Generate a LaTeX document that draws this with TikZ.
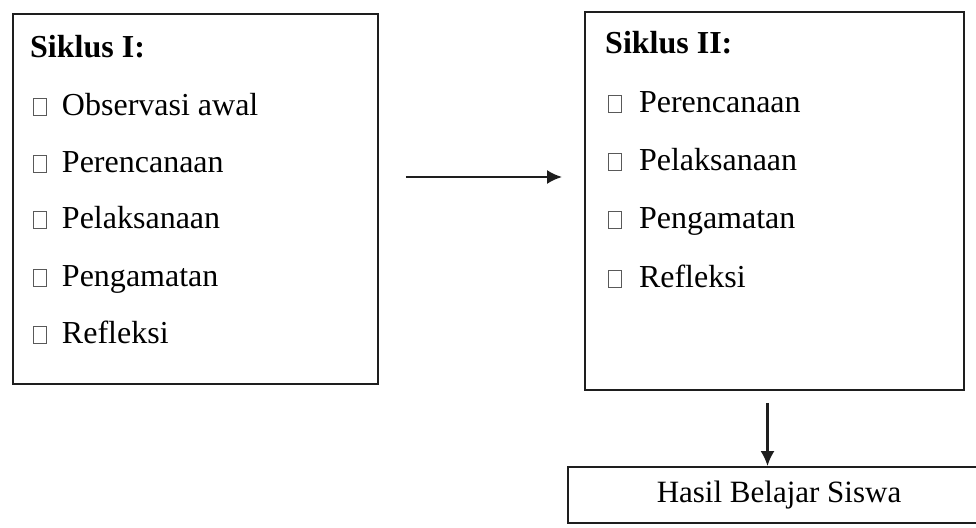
\documentclass[tikz,border=0pt]{standalone}
\usepackage{fontspec}
\setmainfont{Liberation Serif}
\usetikzlibrary{positioning, arrows.meta, calc}
\definecolor{inkgray}{HTML}{1E1E1E}
\newcommand{\kotak}{{\color{black!65}\fboxsep=0pt\fboxrule=0.9pt\fbox{\rule{0pt}{16pt}\hspace{12pt}}}}
\tikzset{
	siklusbox/.style={
			draw=inkgray,
			line width=1.9pt,
			rectangle,
			inner sep=0pt
		},
	itemtext/.style={
			anchor=base west,
			inner sep=0pt,
			font=\fontsize{32}{38}\selectfont
		},
	titletext/.style={
			itemtext,
			font=\fontsize{32}{38}\selectfont\bfseries
		},
	arr/.style={
			line width=2.2pt,
			inkgray,
			-{Latex[length=15pt,width=14pt]}
		}
}
\begin{document}
\begin{tikzpicture}[x=1pt, y=-1pt]
\useasboundingbox (0,0) rectangle (976,527);
\node[siklusbox, minimum width=365pt, minimum height=370pt] (lbox) at (195.5,199) {};
\node[siklusbox, minimum width=379pt, minimum height=378pt] (rbox) at (774.5,201) {};
\node[siklusbox, minimum width=422pt, minimum height=56pt,
      font=\fontsize{31}{37}\selectfont] (hasil) at (779,495) {Hasil Belajar Siswa};

\node[titletext] (s1) at (30,58) {Siklus I:};
\node[itemtext] (s1a) at (33,115) {\kotak\hspace{15pt}Observasi awal};
\node[itemtext] (s1b) at (33,172) {\kotak\hspace{15pt}Perencanaan};
\node[itemtext] (s1c) at (33,228) {\kotak\hspace{15pt}Pelaksanaan};
\node[itemtext] (s1d) at (33,286) {\kotak\hspace{15pt}Pengamatan};
\node[itemtext] (s1e) at (33,343) {\kotak\hspace{15pt}Refleksi};

\node[titletext] (s2) at (605,53) {Siklus II:};
\node[itemtext] (s2a) at (608,112) {\kotak\hspace{17pt}Perencanaan};
\node[itemtext] (s2b) at (608,170) {\kotak\hspace{17pt}Pelaksanaan};
\node[itemtext] (s2c) at (608,228) {\kotak\hspace{17pt}Pengamatan};
\node[itemtext] (s2d) at (608,287) {\kotak\hspace{17pt}Refleksi};

\draw[arr, shorten <=27pt, shorten >=22pt]
([yshift=22pt]lbox.east) -- ([yshift=22pt]lbox.east -| rbox.west);
\draw[arr, shorten <=12pt]
([xshift=-7pt]rbox.south) -- ([xshift=-7pt]rbox.south |- hasil.north);
\end{tikzpicture}
\end{document}
